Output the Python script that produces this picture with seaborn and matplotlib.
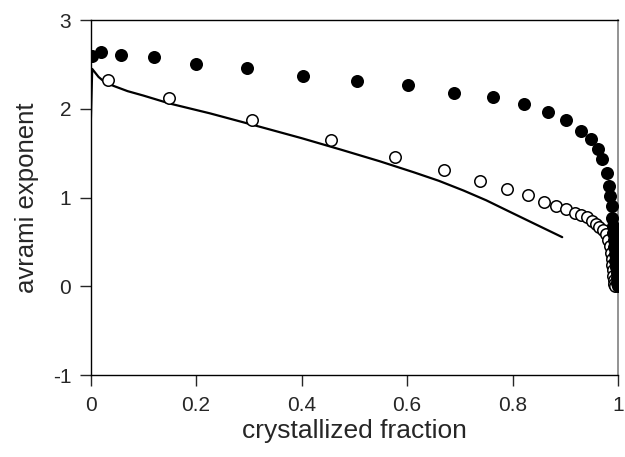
import numpy as np
import pandas as pd
import matplotlib
matplotlib.use('Agg')
import matplotlib.pyplot as plt
import seaborn as sns

# filled circles
filled_x = [0.002, 0.02, 0.058, 0.12, 0.20, 0.297, 0.403, 0.505, 0.602, 0.689, 0.762,
            0.821, 0.868, 0.902, 0.929, 0.948, 0.961, 0.970, 0.978, 0.983, 0.985, 0.988,
            0.989, 0.990, 0.991, 0.992, 0.993, 0.994, 0.995, 0.996, 0.997, 0.998, 0.998, 0.999]
filled_y = [2.60, 2.64, 2.61, 2.58, 2.51, 2.46, 2.37, 2.31, 2.27, 2.18, 2.13,
            2.05, 1.97, 1.88, 1.75, 1.66, 1.55, 1.44, 1.28, 1.13, 1.02, 0.91,
            0.77, 0.68, 0.60, 0.52, 0.44, 0.36, 0.29, 0.22, 0.15, 0.09, 0.04, 0.0]

# open circles
open_x = [0.033, 0.149, 0.305, 0.455, 0.577, 0.670, 0.739, 0.790, 0.830, 0.860, 0.883,
          0.902, 0.918, 0.930, 0.941, 0.951, 0.958, 0.964, 0.971, 0.977, 0.981, 0.984,
          0.986, 0.988, 0.989, 0.990, 0.991, 0.992, 0.993, 0.994]
open_y = [2.33, 2.12, 1.87, 1.65, 1.46, 1.31, 1.19, 1.10, 1.03, 0.955, 0.91,
          0.87, 0.83, 0.81, 0.78, 0.74, 0.70, 0.67, 0.63, 0.59, 0.52, 0.45,
          0.38, 0.31, 0.24, 0.18, 0.12, 0.07, 0.03, 0.0]

# solid line
line_x = [0.0, 0.003, 0.015, 0.027, 0.043, 0.07, 0.10, 0.15, 0.226, 0.32, 0.40, 0.475,
          0.548, 0.613, 0.66, 0.707, 0.75, 0.79, 0.84, 0.894]
line_y = [1.77, 2.45, 2.36, 2.30, 2.26, 2.20, 2.15, 2.06, 1.95, 1.80, 1.67, 1.54,
          1.41, 1.285, 1.19, 1.08, 0.97, 0.854, 0.71, 0.555]

sns.set_style('ticks')
plt.rcParams['font.family'] = ['Liberation Sans', 'DejaVu Sans']
plt.rcParams['axes.unicode_minus'] = False

fig = plt.figure(figsize=(6.25, 4.57), dpi=100)
ax = fig.add_axes([0.145, 0.179, 0.844, 0.777])

line_df = pd.DataFrame({'x': line_x, 'y': line_y})
sns.lineplot(data=line_df, x='x', y='y', sort=False, color='black', linewidth=1.6, ax=ax)

sns.scatterplot(x=open_x, y=open_y, marker='o', s=68, facecolor='white',
                edgecolor='black', linewidth=1.1, ax=ax, zorder=3)
sns.scatterplot(x=filled_x, y=filled_y, marker='o', s=88, color='black',
                edgecolor='black', linewidth=0, ax=ax, zorder=4)

ax.set_xlim(0, 1)
ax.set_ylim(-1, 3)
ax.set_xticks([0, 0.2, 0.4, 0.6, 0.8, 1])
ax.set_xticklabels(['0', '0.2', '0.4', '0.6', '0.8', '1'])
ax.set_yticks([-1, 0, 1, 2, 3])
ax.set_yticklabels(['-1', '0', '1', '2', '3'])
ax.tick_params(direction='out', length=8, width=1, labelsize=15, top=False, right=False)
ax.tick_params(axis='x', pad=7)
ax.tick_params(axis='y', pad=6)
ax.set_xlabel('crystallized fraction', fontsize=19, labelpad=3)
ax.set_ylabel('avrami exponent', fontsize=18.5, labelpad=10)
for side in ['left', 'bottom', 'top']:
    ax.spines[side].set_color('black')
    ax.spines[side].set_linewidth(1.0)
ax.spines['right'].set_color('#808080')
ax.spines['right'].set_linewidth(1.2)

fig.savefig('out.png', dpi=100)
